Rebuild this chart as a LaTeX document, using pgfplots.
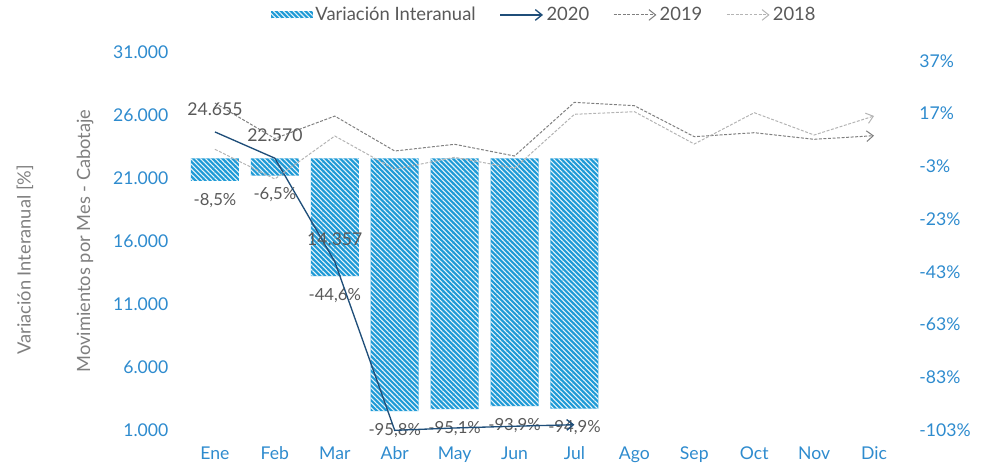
\documentclass[border=0pt]{standalone}
\usepackage{fontspec}
\setmainfont{Lato}
\usepackage{pgfplots}
\pgfplotsset{compat=1.18}
\usetikzlibrary{arrows.meta,patterns.meta}

\definecolor{barblue}{HTML}{1E9AD6}
\definecolor{tickblue}{HTML}{2E8BCE}
\definecolor{navy}{HTML}{1F4E79}
\definecolor{gray19}{HTML}{7F7F7F}
\definecolor{gray18}{HTML}{B4B4B4}
\definecolor{txtgray}{HTML}{595959}
\definecolor{axgray}{HTML}{7F7F7F}

\pgfplotsset{
  base/.style={
    scale only axis, width=539.25pt, height=283.5pt,
    xmin=-0.5, xmax=11.5, clip=false,
    axis line style={draw=none}, tick style={draw=none},
    scaled y ticks=false,
    font=\fontsize{13pt}{15pt}\selectfont,
    tick label style={text=tickblue, font=\fontsize{13.2pt}{15pt}\selectfont},
    /pgf/number format/assume math mode=true,
  },
  hatched/.style={fill=barblue, draw=none,
    postaction={pattern={Lines[angle=-45,distance=2.6pt,line width=0.8pt]}, pattern color=white!90!barblue}},
  barimg/.style={hatched,
    legend image code/.code={\fill[##1] (0pt,-2.6pt) rectangle (31.5pt,2.6pt);}},
  lineimg/.style={
    legend image code/.code={\draw[##1] (0pt,0pt) -- (32pt,0pt);}},
}

\begin{document}
\begin{tikzpicture}

% variacion interanual (right axis)
\begin{axis}[base, name=pa,
    axis y line*=right, hide x axis,
    ymin=-103, ymax=40.4,
    ytick={-103,-83,-63,-43,-23,-3,17,37},
    yticklabels={-103\%,-83\%,-63\%,-43\%,-23\%,-3\%,17\%,37\%},
    yticklabel style={anchor=west, xshift=8pt},
]
\addplot[ybar, bar width=36pt, hatched,
    point meta=explicit symbolic, nodes near coords,
    every node near coord/.append style={anchor=north, text=txtgray,
      font=\fontsize{12.5pt}{14pt}\selectfont, yshift=-5.5pt}]
  coordinates {
    (0,-8.5) [-8,5\%]
    (1,-6.5) [-6,5\%]
    (2,-44.6) [-44,6\%]
    (3,-95.8) [-95,8\%]
    (4,-95.1) [-95,1\%]
    (5,-93.9) [-93,9\%]
    (6,-94.9) [-94,9\%]
  };
\end{axis}

% movimientos (left axis)
\begin{axis}[base,
    axis y line*=left, axis x line*=bottom,
    ymin=1000, ymax=31000,
    ytick={1000,6000,11000,16000,21000,26000,31000},
    yticklabels={1.000,6.000,11.000,16.000,21.000,26.000,31.000},
    yticklabel style={anchor=east, xshift=-9pt},
    xtick={0,...,11},
    xticklabels={Ene,Feb,Mar,Abr,May,Jun,Jul,Ago,Sep,Oct,Nov,Dic},
    xticklabel style={yshift=-9pt},
    ylabel={Movimientos por Mes - Cabotaje},
    every axis y label/.style={at={(rel axis cs:-0.139,0.5)}, rotate=90, anchor=center,
      text=axgray, font=\fontsize{13.7pt}{15pt}\selectfont},
    legend style={draw=none, legend columns=-1, at={(0.5,1.098)}, anchor=center,
      font=\fontsize{13.8pt}{15pt}\selectfont, text=txtgray,
      /tikz/every even column/.append style={column sep=16pt}},
    lineimg,
]
\addlegendimage{barimg}
\addlegendentry{Variación Interanual}

\addplot[navy, line width=1pt, -{Straight Barb[length=5pt,width=8pt]}]
  coordinates {(0,24655)(1,22570)(2,14357)(3,972)(4,1160)(5,1300)(6,1420)};
\addlegendentry{2020}

\addplot[gray19, line width=0.75pt, dash pattern=on 2.2pt off 1.2pt, -{Straight Barb[length=5pt,width=8pt]}]
  coordinates {(0,26945)(1,24139)(2,25915)(3,23143)(4,23675)(5,22746)
               (6,27008)(7,26738)(8,24278)(9,24595)(10,24071)(11,24357)};
\addlegendentry{2019}

\addplot[gray18, line width=0.75pt, dash pattern=on 2.2pt off 1.2pt, -{Straight Barb[length=5pt,width=8pt]}]
  coordinates {(0,23278)(1,20921)(2,24333)(3,21690)(4,22643)(5,21770)
               (6,26056)(7,26262)(8,23698)(9,26183)(10,24413)(11,25921)};
\addlegendentry{2018}

% etiquetas 2020
\addplot[forget plot, draw=none, mark=none, point meta=explicit symbolic, nodes near coords,
    every node near coord/.append style={anchor=center, yshift=17pt, text=txtgray,
      font=\fontsize{13.2pt}{15pt}\selectfont}]
  coordinates {(0,24655) [24.655] (1,22570) [22.570] (2,14357) [14.357]};

\node[rotate=90, text=axgray, font=\fontsize{13.7pt}{15pt}\selectfont]
  at (rel axis cs:-0.2225,0.45) {Variación Interanual [\%]};
\end{axis}

\pgfresetboundingbox
\path[use as bounding box] ([xshift=-138.75pt,yshift=-28.5pt]pa.south west)
  rectangle ([xshift=60.75pt,yshift=39pt]pa.north east);
\end{tikzpicture}
\end{document}
